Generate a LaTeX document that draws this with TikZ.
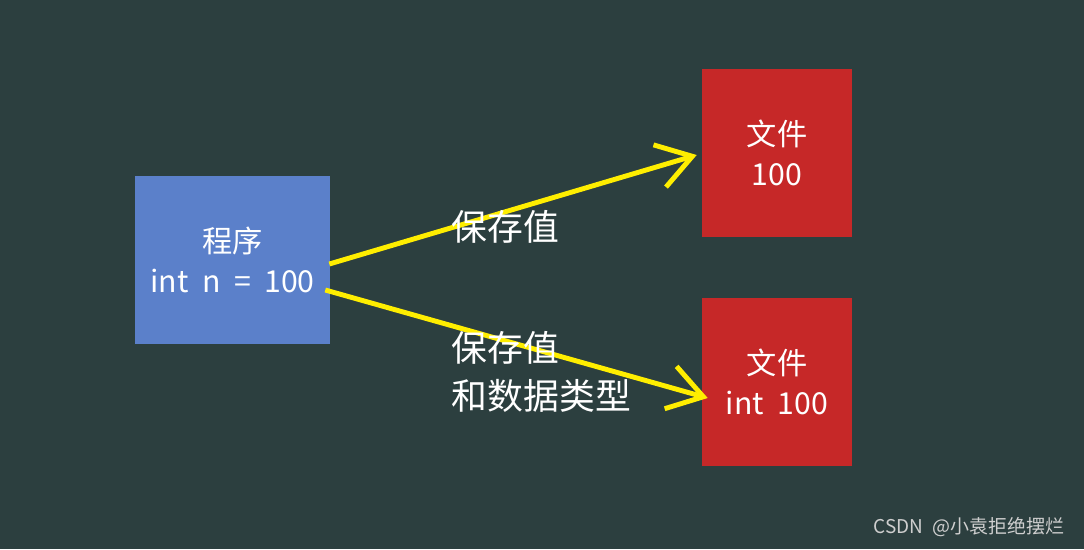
\documentclass[tikz,border=0pt]{standalone}
\usepackage{fontspec}
\setmainfont{Noto Sans CJK SC}[WordSpace=2]
\usepackage{tikz}
\usetikzlibrary{arrows.meta,positioning,calc}
\definecolor{boardbg}{HTML}{2C3F3F}
\definecolor{progblue}{HTML}{5B80CA}
\definecolor{filered}{HTML}{C62828}
\definecolor{arrowyellow}{HTML}{FFEE00}
\definecolor{markgray}{HTML}{CFCFCF}

\begin{document}
\begin{tikzpicture}[
  x=0.025cm, y=-0.025cm,
  progbox/.style={fill=progblue, text=white, minimum width=4.875cm,
                  minimum height=4.2cm, align=center, font=\fontsize{21.5}{28}\selectfont},
  filebox/.style={fill=filered, text=white, minimum width=3.75cm,
                  minimum height=4.2cm, align=center, font=\fontsize{21.5}{28}\selectfont},
  lbl/.style={text=white, align=left, font=\fontsize{25.5}{34.5}\selectfont},
  arr/.style={-{Straight Barb[length=8.5mm,width=11mm]}, line width=3.5pt,
              draw=arrowyellow}
]
\useasboundingbox[fill=boardbg] (0,0) rectangle (1084,549);

\node[progbox] (prog) at (232.5,260) {程序\\int n = 100};
\node[filebox] (file1) at (777,153) {文件\\100};
\node[filebox] (file2) at (777,382) {文件\\int 100};

\draw[arr] ($(prog.east)+(-1,4)$) -- ($(file1.west)+(-5,2)$);
\draw[arr] ($(prog.east)+(-5,30)$) -- ($(file2.west)+(6,16)$);

\node[lbl, anchor=west] (save1) at (447,227) {保存值};
\node[lbl, anchor=west] (save2) at (447,372) {保存值\\和数据类型};

\node[text=markgray, anchor=east, font=\fontsize{13.5}{16}\selectfont] (mark) at (1069,527) {CSDN @小袁拒绝摆烂};
\end{tikzpicture}
\end{document}
